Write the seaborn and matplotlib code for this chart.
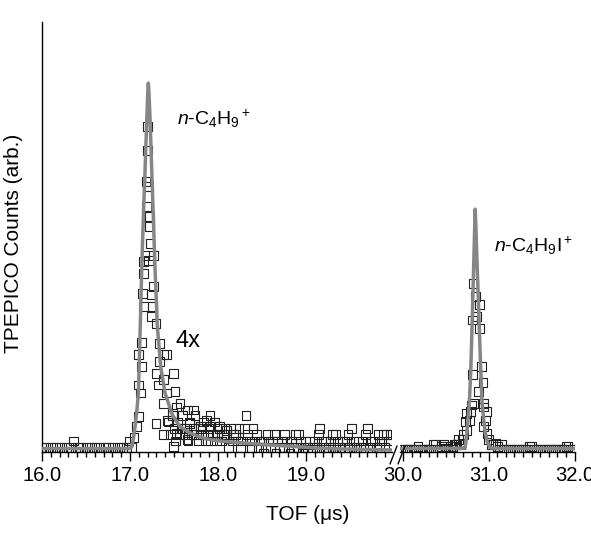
import matplotlib
matplotlib.use("Agg")
import matplotlib.pyplot as plt
from matplotlib.ticker import FixedLocator, MultipleLocator, FormatStrFormatter
from matplotlib.lines import Line2D
import seaborn as sns
import pandas as pd

# ---------------- data ----------------
# left panel: n-C4H9+ region (TOF in microseconds, counts in arb. units)
pre_x = [16.00, 16.04, 16.08, 16.12, 16.16, 16.20, 16.24, 16.28, 16.32, 16.36,
         16.40, 16.44, 16.48, 16.52, 16.56, 16.60, 16.64, 16.68, 16.72, 16.76,
         16.80, 16.84, 16.88, 16.92, 16.96, 16.99]
pre_c = [1, 1, 0, 1, 1, 1, 0, 1, 1, 2,
         1, 1, 0, 1, 1, 1, 1, 0, 1, 1,
         1, 0, 1, 1, 1, 2]

peak1_x = [17.020, 17.046, 17.077, 17.096, 17.096, 17.123, 17.134, 17.096, 17.134, 17.146,
           17.152, 17.152, 17.152, 17.172, 17.183, 17.191, 17.203, 17.203, 17.209, 17.209,
           17.221, 17.221, 17.229, 17.248, 17.248, 17.259, 17.267, 17.267, 17.297, 17.297,
           17.297, 17.323, 17.335, 17.335, 17.380, 17.380, 17.380, 17.380, 17.418, 17.418,
           17.430, 17.487, 17.494, 17.494, 17.513, 17.530, 17.530, 17.570, 17.653, 17.650,
           17.680, 17.721, 17.800, 17.874, 17.910, 17.910, 18.020, 18.100]
peak1_c = [1.0, 2.5, 4.3, 5.9, 10.9, 9.6, 13.8, 15.7, 17.6, 25.4,
           23.4, 28.6, 30.5, 31.5, 43.2, 39.2, 48.1, 51.9, 42.4, 30.7,
           37.6, 36.0, 33.4, 25.2, 21.7, 23.3, 31.5, 26.5, 20.7, 12.7,
           4.8, 10.9, 17.5, 14.6, 15.7, 11.7, 8.0, 3.0, 15.7, 9.6,
           5.3, 6.4, 12.7, 1.1, 9.8, 7.4, 3.2, 8.0, 6.9, 2.2,
           4.8, 6.9, 4.3, 5.3, 6.0, 4.3, 4.3, 3.7]

tail_x = [17.44, 17.46, 17.48, 17.50, 17.52, 17.54, 17.56, 17.58, 17.60, 17.62,
          17.64, 17.66, 17.68, 17.70, 17.72, 17.74, 17.76, 17.78, 17.80, 17.82,
          17.84, 17.86, 17.88, 17.90, 17.92, 17.94, 17.96, 17.98, 18.00, 18.02,
          18.04, 18.06, 18.08, 18.10, 18.12, 18.14, 18.16, 18.18, 18.20, 18.22,
          18.24, 18.26, 18.28, 18.30, 18.32, 18.34, 18.36, 18.38, 18.40, 18.42,
          18.44, 18.46, 18.48, 18.50, 18.52, 18.54, 18.56, 18.58, 18.60, 18.62,
          18.64, 18.66, 18.68, 18.70, 18.72, 18.74, 18.76, 18.78, 18.80, 18.82,
          18.84, 18.86, 18.88, 18.90, 18.92, 18.94, 18.96, 18.98, 19.00, 19.02,
          19.04, 19.06, 19.08, 19.10, 19.12, 19.14, 19.16, 19.18, 19.20, 19.22,
          19.24, 19.26, 19.28, 19.30, 19.32, 19.34, 19.36, 19.38, 19.40, 19.42,
          19.44, 19.46, 19.48, 19.50, 19.52, 19.54, 19.56, 19.58, 19.60, 19.62,
          19.64, 19.66, 19.68, 19.70, 19.72, 19.74, 19.76, 19.78, 19.80, 19.82,
          19.84, 19.86, 19.88, 19.90, 19.92, 19.94, 19.96]
tail_c = [5, 3, 6, 4, 2, 5, 3, 4, 6, 3,
          4, 2, 5, 3, 4, 6, 3, 2, 4, 3,
          5, 2, 3, 4, 2, 3, 5, 2, 3, 4,
          2, 3, 4, 3, 1, 4, 2, 3, 3, 2,
          4, 1, 2, 4, 6, 3, 2, 1, 4, 2,
          3, 1, 2, 2, 0, 1, 3, 2, 1, 2,
          3, 0, 2, 1, 2, 1, 3, 2, 1, 0,
          2, 1, 3, 1, 3, 2, 0, 1, 2, 1,
          2, 0, 1, 2, 1, 3, 4, 2, 1, 2,
          0, 1, 2, 3, 1, 3, 2, 1, 0, 2,
          1, 2, 3, 1, 4, 2, 0, 1, 2, 1,
          2, 1, 3, 4, 1, 2, 0, 2, 1, 3,
          1, 2, 3, 1, 3, 2, 3]

fit1_x = [16.00, 17.00, 17.020, 17.040, 17.058, 17.078, 17.096, 17.117, 17.137, 17.155,
          17.172, 17.190, 17.203, 17.209, 17.215, 17.225, 17.248, 17.286, 17.312, 17.350,
          17.400, 17.480, 17.570, 17.680, 17.800, 17.900, 18.020, 18.140, 18.310, 18.590,
          18.900, 19.160, 19.500, 19.980]
fit1_c = [0.8, 0.8, 1.05, 2.4, 4.27, 6.7, 9.57, 20.1, 30.7, 38.5,
          45.0, 52.5, 57.3, 58.8, 57.6, 54.5, 45.0, 29.1, 20.1, 13.8,
          9.57, 6.2, 4.27, 3.3, 2.6, 2.25, 2.0, 1.85, 1.65, 1.37,
          1.1, 0.84, 0.7, 0.57]

# right panel: n-C4H9I+ region
rbase1_x = [30.000, 30.025, 30.050, 30.075, 30.100, 30.125, 30.150, 30.175, 30.200, 30.225,
            30.250, 30.275, 30.300, 30.325, 30.350, 30.375, 30.400, 30.425, 30.450, 30.475,
            30.500, 30.525, 30.550, 30.575, 30.600, 30.625, 30.650, 30.675]
rbase1_c = [0.7, 0.7, 0.7, 0.7, 0.7, 0.7, 0.7, 1.1, 0.7, 0.7,
            0.7, 0.7, 0.7, 0.7, 1.4, 1.4, 0.7, 0.7, 1.1, 1.4,
            0.7, 0.7, 0.7, 1.1, 1.4, 1.4, 2.2, 1.4]
rbase2_x = [31.025, 31.050, 31.075, 31.100, 31.125, 31.150, 31.175, 31.200, 31.225, 31.250,
            31.275, 31.300, 31.325, 31.350, 31.375, 31.400, 31.425, 31.450, 31.475, 31.500,
            31.525, 31.550, 31.575, 31.600, 31.625, 31.650, 31.675, 31.700, 31.725, 31.750,
            31.775, 31.800, 31.825, 31.850, 31.875, 31.900, 31.925, 31.950, 31.975, 32.000]
rbase2_c = [1.4, 1.4, 1.6, 1.1, 0.7, 1.4, 0.7, 0.7, 0.7, 0.7,
            0.7, 0.7, 0.7, 0.7, 0.7, 0.7, 0.7, 0.7, 1.1, 1.1,
            0.7, 0.7, 0.7, 0.7, 0.7, 0.7, 0.7, 0.7, 0.7, 0.7,
            0.7, 0.7, 0.7, 0.7, 0.7, 1.1, 1.1, 0.7, 0.7, 0.7]
peak2_x = [30.490, 30.550, 30.608, 30.687, 30.705, 30.725, 30.745, 30.745, 30.775, 30.784,
           30.803, 30.822, 30.811, 30.811, 30.825, 30.842, 30.862, 30.892, 30.892, 30.881,
           30.920, 30.932, 30.939, 30.939, 30.959, 30.979, 30.979, 30.998, 30.939]
peak2_c = [0.9, 1.1, 1.4, 2.2, 3.0, 5.1, 3.7, 6.4, 5.3, 6.7,
           7.7, 8.0, 12.5, 21.2, 27.0, 24.9, 21.7, 23.6, 19.9, 9.8,
           13.8, 11.3, 8.0, 4.3, 5.3, 6.7, 3.2, 2.2, 7.4]

fit2_x = [29.965, 30.700, 30.725, 30.745, 30.760, 30.775, 30.790, 30.803, 30.820, 30.834,
          30.842, 30.850, 30.865, 30.892, 30.906, 30.920, 30.940, 30.959, 30.985, 31.017,
          31.100, 32.000]
fit2_c = [0.8, 0.85, 0.9, 3.3, 5.6, 8.5, 13.0, 19.1, 27.7, 34.8,
          38.8, 36.0, 29.7, 19.1, 13.5, 8.5, 5.5, 3.3, 1.8, 0.9,
          0.8, 0.8]

left_ticks = [16.0, 17.0, 18.0, 19.0]
right_ticks = [30.0, 31.0, 32.0]

# ---------------- style ----------------
sns.set_style("ticks", rc={"axes.edgecolor": "black", "xtick.color": "black",
                           "ytick.color": "black", "text.color": "black",
                           "axes.labelcolor": "black"})
plt.rcParams["font.family"] = ["Liberation Sans", "DejaVu Sans"]
plt.rcParams["mathtext.fontset"] = "custom"
plt.rcParams["mathtext.rm"] = "Liberation Sans"
plt.rcParams["mathtext.it"] = "Liberation Sans:italic"

W, H = 591, 538
fig = plt.figure(figsize=(W / 100, H / 100), dpi=100)


def fx(px):
    return px / W


def fy(py):
    return 1 - py / H


ax1 = fig.add_axes([fx(42), fy(452), (392 - 42) / W, (452 - 22) / H])
ax2 = fig.add_axes([fx(400), fy(452), (574.5 - 400) / W, (452 - 22) / H])

left_df = pd.DataFrame({"tof": pre_x + peak1_x + tail_x,
                        "counts": pre_c + peak1_c + tail_c})
right_df = pd.DataFrame({"tof": rbase1_x + peak2_x + rbase2_x,
                         "counts": rbase1_c + peak2_c + rbase2_c})

mk = dict(marker="s", s=40, facecolor="none", edgecolor="#222222",
          linewidth=0.8, legend=False, zorder=2)
sns.scatterplot(data=left_df, x="tof", y="counts", ax=ax1, **mk)
sns.scatterplot(data=right_df, x="tof", y="counts", ax=ax2, **mk)

ln = dict(color="#868686", linewidth=2.5, sort=False, estimator=None,
          solid_joinstyle="round", solid_capstyle="round", zorder=3)
sns.lineplot(x=fit1_x, y=fit1_c, ax=ax1, **ln)
sns.lineplot(x=fit2_x, y=fit2_c, ax=ax2, **ln)

ax1.set_xlim(16.0, 19.98)
ax2.set_xlim(29.965, 32.0)
for ax, ticks in ((ax1, left_ticks), (ax2, right_ticks)):
    ax.set_ylim(0.25, 68.5)
    ax.set_yticks([])
    ax.set_xlabel("")
    ax.set_ylabel("")
    ax.xaxis.set_major_locator(FixedLocator(ticks))
    ax.xaxis.set_major_formatter(FormatStrFormatter("%.1f"))
    ax.xaxis.set_minor_locator(MultipleLocator(0.1))
    ax.tick_params(axis="x", which="major", direction="out", length=6.5,
                   width=1.0, labelsize=14.5, pad=3.5)
    ax.tick_params(axis="x", which="minor", direction="out", length=3.6, width=1.0)
    for s in ("top", "right"):
        ax.spines[s].set_visible(False)
    ax.spines["bottom"].set_linewidth(1.0)
    ax.patch.set_alpha(0)
ax1.spines["left"].set_linewidth(1.0)
ax2.spines["left"].set_visible(False)

# axis break marks
for (x0, y0, x1, y1) in ((390, 464, 397, 446), (398, 464, 405, 446)):
    fig.add_artist(Line2D([fx(x0), fx(x1)], [fy(y0), fy(y1)], color="black",
                          linewidth=1.0, transform=fig.transFigure))

# annotations
fig.text(fx(177), fy(125), r"$n$-C$_4$H$_9$$^+$", fontsize=14, ha="left", va="baseline")
fig.text(fx(176), fy(347), "4x", fontsize=17, ha="left", va="baseline")
fig.text(fx(494), fy(252), r"$n$-C$_4$H$_9$I$^+$", fontsize=14, ha="left", va="baseline")
fig.text(fx(14), fy(243), "TPEPICO Counts (arb.)", rotation=90, ha="center",
         va="center", fontsize=15)
fig.text(fx(308), fy(514), "TOF (\u03bcs)", ha="center", va="center", fontsize=15)

fig.savefig("out.png", dpi=100)
